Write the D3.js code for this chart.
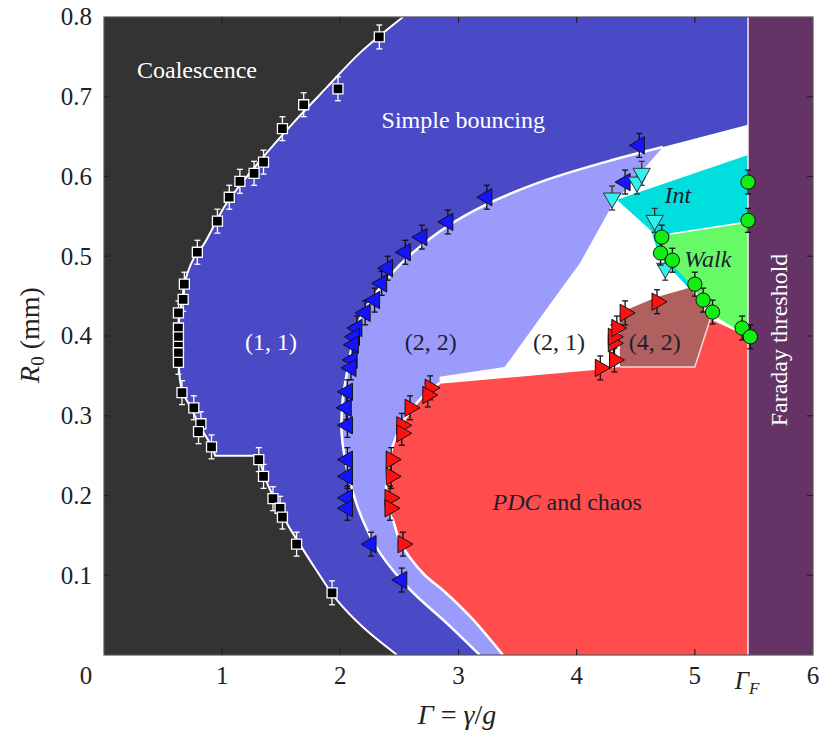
<!DOCTYPE html>
<html><head><meta charset="utf-8">
<script src="https://cdn.jsdelivr.net/npm/d3@7"></script>
<style>
body{margin:0;background:#fff}
svg{display:block}
text{font-family:"Liberation Serif","Times New Roman",serif}
</style>
</head><body>
<svg id="c" width="820" height="733"></svg>
<script>
// ---------- axes ----------
const xTicks = [1, 2, 3, 4, 5, 6];
const yTicks = [0.1, 0.2, 0.3, 0.4, 0.5, 0.6, 0.7, 0.8];
const GAMMA_F = 5.45;

// ---------- region boundaries (Gamma, R0) ----------
const coalLower = [[2.48,0],[2.19,0.035],[1.97,0.069],[1.785,0.109],[1.66,0.138],[1.556,0.163],[1.472,0.188],[1.387,0.213],[1.32,0.242],[1.30,0.25]];
const coalUpper = [[0.94,0.25],[0.914,0.261],[0.83,0.282],[0.745,0.307],[0.66,0.332],[0.635,0.357],[0.626,0.389],[0.635,0.42],[0.66,0.445],[0.70,0.476],[0.78,0.503],[0.84,0.514],[1.04,0.567],[1.345,0.624],[1.60,0.667],[1.887,0.712],[2.166,0.755],[2.53,0.80]];
const lavOuter = [[3.18,0],[2.90,0.040],[2.59,0.082],[2.335,0.128],[2.19,0.169],[2.10,0.207],[2.04,0.245],[2.01,0.282],[2.02,0.320],[2.06,0.357],[2.11,0.395],[2.18,0.426],[2.29,0.451],[2.42,0.476],[2.61,0.504],[2.90,0.537],[3.25,0.566],[3.75,0.596],[4.31,0.621],[4.73,0.637]];
const blueEdgeEnd = [5.45,0.665];
const lavRight = [[4.73,0.637],[4.30,0.564],[4.03,0.492],[3.80,0.445],[3.39,0.361],[2.84,0.349]];
const redLeft = [[2.84,0.341],[2.67,0.320],[2.53,0.292],[2.445,0.263],[2.40,0.232],[2.386,0.201],[2.40,0.182],[2.445,0.169],[2.50,0.144],[2.59,0.122],[2.716,0.100],[2.885,0.079],[3.10,0.048],[3.376,0]];
const redTop = [[2.84,0.341],[4.196,0.359],[4.365,0.362],[5.13,0.421],[5.45,0.399]];
const brownRegion = [[4.365,0.429],[4.68,0.449],[4.97,0.461],[5.13,0.421],[5.00,0.361],[4.365,0.361]];
const cyanRegion = [[4.34,0.571],[5.45,0.627],[5.45,0.543],[4.79,0.528],[4.73,0.508],[4.98,0.466],[4.94,0.461],[4.70,0.500],[4.63,0.532]];
const greenRegion = [[4.79,0.528],[5.45,0.543],[5.45,0.399],[5.14,0.428],[4.96,0.466],[4.85,0.483],[4.73,0.508],[4.70,0.524]];

// ---------- measured points (Gamma, R0) ----------
const squares = [[2.33,0.775],[1.98,0.710],[1.69,0.690],[1.51,0.660],[1.35,0.618],[1.27,0.604],[1.15,0.594],[1.06,0.574],[0.96,0.544],[0.79,0.505],[0.68,0.465],[0.67,0.446],[0.63,0.429],[0.63,0.410],[0.63,0.399],[0.63,0.387],[0.63,0.379],[0.63,0.367],[0.66,0.329],[0.76,0.310],[0.82,0.290],[0.80,0.280],[0.91,0.261],[1.31,0.245],[1.35,0.224],[1.43,0.196],[1.49,0.184],[1.51,0.173],[1.63,0.139],[1.93,0.078]];
const blueTri = [[4.53,0.639],[4.41,0.593],[3.24,0.574],[2.91,0.543],[2.69,0.524],[2.55,0.505],[2.40,0.485],[2.35,0.466],[2.29,0.445],[2.21,0.429],[2.14,0.410],[2.12,0.399],[2.11,0.389],[2.10,0.370],[2.09,0.360],[2.06,0.330],[2.05,0.310],[2.06,0.288],[2.06,0.245],[2.06,0.224],[2.06,0.197],[2.06,0.184],[2.26,0.139],[2.52,0.094]];
const redTri = [[2.76,0.335],[2.74,0.326],[2.59,0.310],[2.52,0.288],[2.52,0.278],[2.43,0.245],[2.43,0.224],[2.42,0.197],[2.42,0.184],[2.53,0.139],[4.20,0.360],[4.32,0.370],[4.31,0.391],[4.31,0.399],[4.34,0.410],[4.41,0.429],[4.68,0.443]];
const cyanTri = [[4.30,0.573],[4.51,0.593],[4.55,0.604],[4.66,0.545],[4.75,0.485]];
const greenCirc = [[5.45,0.593],[5.45,0.545],[4.72,0.524],[4.71,0.504],[4.81,0.495],[5.00,0.465],[5.07,0.445],[5.15,0.430],[5.40,0.410],[5.47,0.399]];
const errR = 0.015;

// ---------- region labels ----------
const labels = [
  {g:0.787, r:0.7235, t:"Coalescence", c:"#fff"},
  {g:3.04, r:0.661, t:"Simple bouncing", c:"#fff"},
  {g:1.413, r:0.383, t:"(1, 1)", c:"#fff"},
  {g:2.766, r:0.383, t:"(2, 2)", c:"#1e1e30"},
  {g:3.85, r:0.383, t:"(2, 1)", c:"#1e1e30"},
  {g:4.66, r:0.383, t:"(4, 2)", c:"#1e1e30"},
  {g:4.856, r:0.567, t:"Int", c:"#1e1e30", it:true},
  {g:5.11, r:0.486, t:"Walk", c:"#1e1e30", it:true}
];

const svg = d3.select("#c");
const x = d3.scaleLinear().domain([0,6]).range([104,813]);
const y = d3.scaleLinear().domain([0,0.8]).range([655,17]);
const line = d3.line().x(d=>x(d[0])).y(d=>y(d[1]));
const smooth = d3.line().x(d=>x(d[0])).y(d=>y(d[1])).curve(d3.curveCatmullRom.alpha(0.5));
// join segments: each [points, isSmooth]
function joinPath(segs, close){
  let s = "";
  segs.forEach((sg,i)=>{
    let p = (sg[1] ? smooth : line)(sg[0]);
    if (i>0) p = "L" + p.slice(1);
    s += p;
  });
  return close ? s + "Z" : s;
}
const rev = a => a.slice().reverse();

svg.append("defs").append("clipPath").attr("id","pc")
  .append("rect").attr("x",x(0)).attr("y",y(0.8)).attr("width",x(6)-x(0)).attr("height",y(0)-y(0.8));
const g = svg.append("g").attr("clip-path","url(#pc)");

// background: coalescence
g.append("rect").attr("x",x(0)).attr("y",y(0.8)).attr("width",x(6)-x(0)).attr("height",y(0)-y(0.8)).attr("fill","#333333");
// simple bouncing (1,1)
g.append("path").attr("d", joinPath([[coalLower,true],[coalUpper,true],[[[GAMMA_F,0.8],[GAMMA_F,0]],false]],true)).attr("fill","#4a4ac6");
// white region
g.append("path").attr("d", joinPath([[lavOuter,true],[[blueEdgeEnd,[GAMMA_F,0]],false]],true)).attr("fill","#ffffff");
// (2,2) lavender
g.append("path").attr("d", joinPath([[lavOuter,true],[lavRight.slice(1),false],[redLeft,true]],true)).attr("fill","#9b9bfb");
// red PDC and chaos
g.append("path").attr("d", joinPath([[redLeft,true],[[[GAMMA_F,0]].concat(rev(redTop)),false]],true)).attr("fill","#ff4c4c");
// brown (4,2)
g.append("path").attr("d", line(brownRegion)+"Z").attr("fill","#b0605f");
g.append("path").attr("d", line([brownRegion[2],brownRegion[3],brownRegion[4],brownRegion[5]])).attr("fill","none").attr("stroke","#f3d6d6").attr("stroke-width",1.5);
// cyan Int
g.append("path").attr("d", line(cyanRegion)+"Z").attr("fill","#00dede");
// green Walk
g.append("path").attr("d", line(greenRegion)+"Z").attr("fill","#66fa66");
g.append("path").attr("d", line([greenRegion[0],greenRegion[1]])).attr("fill","none").attr("stroke","#fff").attr("stroke-width",1.5);
// purple Faraday
g.append("rect").attr("x",x(GAMMA_F)).attr("y",y(0.8)).attr("width",x(6)-x(GAMMA_F)).attr("height",y(0)-y(0.8)).attr("fill","#663366");

// white boundary lines
g.append("path").attr("d", joinPath([[coalLower,true],[coalUpper,true]],false)).attr("fill","none").attr("stroke","#fff").attr("stroke-width",2);
g.append("path").attr("d", smooth(lavOuter)).attr("fill","none").attr("stroke","#fff").attr("stroke-width",2.5);
g.append("path").attr("d", smooth(redLeft)).attr("fill","none").attr("stroke","#fff").attr("stroke-width",2.5);
g.append("path").attr("d", line(redTop.slice(0,3))).attr("fill","none").attr("stroke","#fff").attr("stroke-width",1.5);
g.append("line").attr("x1",x(GAMMA_F)).attr("x2",x(GAMMA_F)).attr("y1",y(0.8)).attr("y2",y(0)).attr("stroke","#f4eef4").attr("stroke-width",1.5);

// border
svg.append("rect").attr("x",x(0)).attr("y",y(0.8)).attr("width",x(6)-x(0)).attr("height",y(0)-y(0.8)).attr("fill","none").attr("stroke","#555").attr("stroke-width",1.2);

// ticks (inward, all sides)
const tk = svg.append("g").attr("stroke","#222").attr("stroke-width",1.2);
xTicks.filter(t=>t<6).forEach(t=>{
  tk.append("line").attr("x1",x(t)).attr("x2",x(t)).attr("y1",y(0)).attr("y2",y(0)-6);
  tk.append("line").attr("x1",x(t)).attr("x2",x(t)).attr("y1",y(0.8)).attr("y2",y(0.8)+6);
});
yTicks.filter(t=>t<0.8).forEach(t=>{
  tk.append("line").attr("x1",x(0)).attr("x2",x(0)+6).attr("y1",y(t)).attr("y2",y(t));
  tk.append("line").attr("x1",x(6)).attr("x2",x(6)-6).attr("y1",y(t)).attr("y2",y(t));
});

// tick labels
const tl = svg.append("g").attr("fill","#222").attr("font-size",25);
yTicks.forEach(t=>{
  tl.append("text").attr("x",92).attr("y",y(t)).attr("dy","0.33em").attr("text-anchor","end").text(d3.format(".1f")(t));
});
tl.append("text").attr("x",86).attr("y",684).attr("text-anchor","middle").text("0");
xTicks.forEach(t=>{
  tl.append("text").attr("x",x(t)).attr("y",684).attr("text-anchor","middle").text(t);
});
const gf = tl.append("text").attr("x",x(GAMMA_F)-1).attr("y",689).attr("text-anchor","middle");
gf.append("tspan").attr("font-style","italic").text("Γ");
gf.append("tspan").attr("font-style","italic").attr("font-size",17).attr("dy",5).text("F");

// axis titles
const xt = svg.append("text").attr("x",457).attr("y",724).attr("text-anchor","middle").attr("font-size",28).attr("fill","#222");
xt.append("tspan").attr("font-style","italic").text("Γ");
xt.append("tspan").text(" = ");
xt.append("tspan").attr("font-style","italic").text("γ");
xt.append("tspan").text("/");
xt.append("tspan").attr("font-style","italic").text("g");

const yt = svg.append("text").attr("transform","translate(39,335) rotate(-90)").attr("text-anchor","middle").attr("font-size",28).attr("fill","#222");
yt.append("tspan").attr("font-style","italic").text("R");
yt.append("tspan").attr("font-size",19).attr("dy",5).text("0");
yt.append("tspan").attr("dy",-5).text(" (mm)");

// region labels
const lab = svg.append("g").attr("font-size",24);
labels.forEach(l=>{
  lab.append("text").attr("x",x(l.g)).attr("y",y(l.r)).attr("text-anchor","middle")
    .attr("fill",l.c).attr("font-style",l.it?"italic":"normal").text(l.t);
});
const pdc = lab.append("text").attr("x",x(3.92)).attr("y",y(0.182)).attr("text-anchor","middle").attr("fill","#1e1e30");
pdc.append("tspan").attr("font-style","italic").text("PDC");
pdc.append("tspan").text(" and chaos");
lab.append("text").attr("transform",`translate(787,${y(0.395)}) rotate(-90)`).attr("text-anchor","middle").attr("fill","#fff").text("Faraday threshold");

// markers
function errBars(data, color){
  const eg = svg.append("g").attr("stroke",color).attr("stroke-width",1.3);
  data.forEach(d=>{
    const cx=x(d[0]), y1=y(d[1]-errR), y2=y(d[1]+errR);
    eg.append("line").attr("x1",cx).attr("x2",cx).attr("y1",y1).attr("y2",y2);
    eg.append("line").attr("x1",cx-3).attr("x2",cx+3).attr("y1",y1).attr("y2",y1);
    eg.append("line").attr("x1",cx-3).attr("x2",cx+3).attr("y1",y2).attr("y2",y2);
  });
}
function syms(data, type, size, rot, fill, stroke, sw){
  const sg = svg.append("g");
  data.forEach(d=>{
    sg.append("path").attr("d", d3.symbol().type(type).size(size)())
      .attr("transform",`translate(${x(d[0])},${y(d[1])}) rotate(${rot})`)
      .attr("fill",fill).attr("stroke",stroke).attr("stroke-width",sw);
  });
}
errBars(squares,"#fff");
syms(squares, d3.symbolSquare, 100, 0, "#000", "#fff", 1.3);
errBars(blueTri,"#111");
syms(blueTri, d3.symbolTriangle, 130, -90, "#1414ff", "#111", 1);
errBars(redTri,"#111");
syms(redTri, d3.symbolTriangle, 130, 90, "#ff1010", "#111", 1);
errBars(cyanTri,"#333");
syms(cyanTri, d3.symbolTriangle, 130, 180, "#33f0f0", "#333", 1);
errBars(greenCirc,"#111");
syms(greenCirc, d3.symbolCircle, 160, 0, "#11ee11", "#111", 1);
</script>
</body></html>
